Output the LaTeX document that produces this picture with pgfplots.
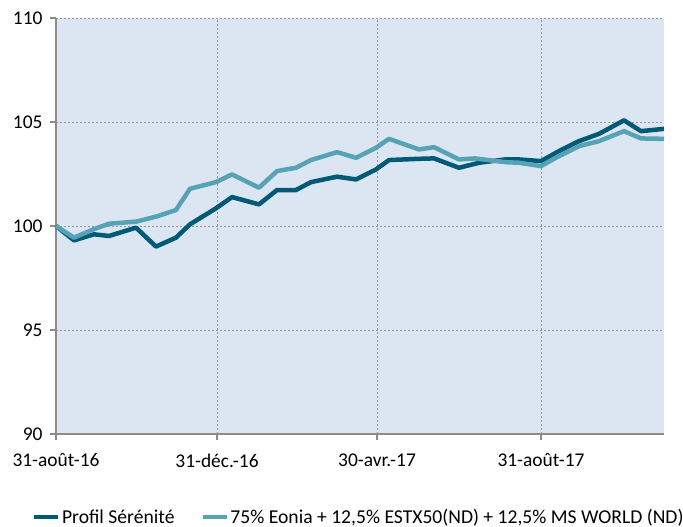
\documentclass[border=0pt]{standalone}
\usepackage{fontspec}
\setmainfont{Carlito}
\usepackage{pgfplots}
\pgfplotsset{compat=1.18}
\definecolor{darkl}{RGB}{0,90,118}
\definecolor{lightl}{RGB}{88,162,182}
\definecolor{bgc}{RGB}{220,230,242}
\definecolor{axc}{RGB}{140,140,140}
\definecolor{gridc}{RGB}{150,150,150}
\begin{document}
\begin{tikzpicture}
\begin{axis}[
  at={(0,0)}, anchor=south west,
  scale only axis, width=608bp, height=416bp,
  xmin=0, xmax=608, ymin=90, ymax=110,
  axis background/.style={fill=bgc},
  axis x line*=bottom, axis y line*=left,
  axis line style={axc, line width=1.5bp, -},
  xtick={0,161,321,485},
  xticklabels={31-août-16,31-déc.-16,30-avr.-17,31-août-17},
  ytick={90,95,100,105,110},
  tick align=outside, major tick length=6bp,
  tick style={axc, line width=1.2bp},
  grid=major,
  major grid style={gridc, line width=0.9bp, dash pattern=on 2bp off 2bp},
  tick label style={font=\fontsize{19.5}{22}\selectfont, text=black},
  /pgf/number format/assume math mode=true,
  yticklabel style={xshift=-4bp},
  xticklabel style={yshift=-10bp},
  legend columns=2,
  legend style={at={(0.498,-0.200)}, anchor=center, draw=none, fill=none,
    font=\fontsize{19.7}{22}\selectfont, column sep=0bp,
    /tikz/every even column/.append style={column sep=24bp}},
  legend image code/.code={\draw[#1, line width=4bp] (0,0) -- (24bp,0);},
  clip=false,
]
\addplot[darkl, line width=4.5bp, line join=round] coordinates {
(0,100) (18,99.31) (38,99.6) (53,99.52) (80,99.92) (100,99.01) (120,99.44)
(134,100.08) (160,100.85) (176,101.39) (203,101.04) (221,101.73) (240,101.73)
(255,102.11) (281,102.37) (300,102.24) (320,102.72) (333,103.17) (363,103.23)
(378,103.25) (403,102.8) (423,103.04) (449,103.2) (463,103.2) (485,103.12)
(503,103.6) (523,104.08) (543,104.43) (568,105.08) (585,104.56) (608,104.67)
};
\addlegendentry{Profil Sérénité}
\addplot[lightl, line width=4.5bp, line join=round] coordinates {
(0,100) (18,99.44) (38,99.85) (53,100.11) (80,100.21) (100,100.45) (120,100.77)
(134,101.79) (160,102.11) (176,102.48) (203,101.84) (221,102.64) (240,102.80)
(255,103.17) (281,103.55) (300,103.28) (320,103.76) (333,104.19) (363,103.68)
(378,103.79) (403,103.2) (419,103.25) (449,103.07) (463,103.04) (485,102.88)
(503,103.36) (523,103.84) (543,104.08) (568,104.56) (585,104.21) (608,104.19)
};
\addlegendentry{75\% Eonia + 12,5\% ESTX50(ND) + 12,5\% MS WORLD (ND)}
\end{axis}
\pgfresetboundingbox
\useasboundingbox (-56bp,-93bp) rectangle (627bp,434bp);
\end{tikzpicture}
\end{document}
